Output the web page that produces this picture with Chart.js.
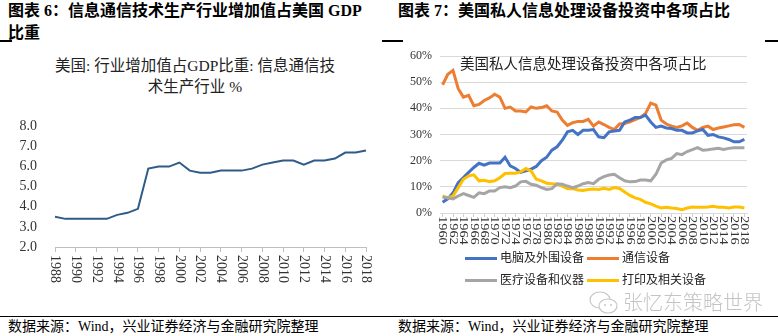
<!DOCTYPE html>
<html>
<head>
<meta charset="utf-8">
<script src="https://cdn.jsdelivr.net/npm/chart.js@4.4.0/dist/chart.umd.min.js"></script>
<style>
body { margin: 0; width: 778px; height: 336px; position: relative; overflow: hidden; background: #fff;
       font-family: "Liberation Serif", "Noto Sans CJK SC", serif; color: #000; }
.abs { position: absolute; white-space: nowrap; }
.title { font-size: 16px; font-weight: bold; line-height: 22px; }
.mark { position: absolute; top: 40px; height: 1.5px; background: #000; }
.inner { font-size: 15.5px; line-height: 21px; color: #222; text-align: center; }
.legend { font-size: 12px; line-height: 14px; color: #222; }
.legend i { display: inline-block; width: 32px; height: 3px; vertical-align: middle; margin-right: 3px; position: relative; top: -1px; }
.source { font-size: 14px; line-height: 18px; }
canvas { position: absolute; }
</style>
</head>
<body>

<div class="abs title" style="left:8px;top:0px">图表 6：信息通信技术生产行业增加值占美国 GDP<br>比重</div>
<div class="abs title" style="left:398px;top:0px">图表 7：美国私人信息处理设备投资中各项占比</div>
<div class="mark" style="left:0;width:12px"></div>
<div class="mark" style="left:382px;width:8px"></div>
<div class="mark" style="left:390px;width:13px"></div>
<div class="mark" style="left:765px;width:13px"></div>

<canvas id="gdpChart" width="390" height="200" style="left:0;top:100px"></canvas>
<canvas id="invChart" width="388" height="215" style="left:390px;top:40px"></canvas>

<div class="abs inner" style="left:0;width:390px;top:55px">美国: 行业增加值占GDP比重: 信息通信技<br>术生产行业 %</div>
<div class="abs" style="left:460px;top:54px;font-size:14.5px;line-height:20px;color:#222">美国私人信息处理设备投资中各项占比</div>

<div class="abs legend" style="left:465px;top:251px"><i style="background:#4472C4"></i>电脑及外围设备</div>
<div class="abs legend" style="left:587px;top:251px"><i style="background:#ED7D31"></i>通信设备</div>
<div class="abs legend" style="left:465px;top:273px"><i style="background:#A5A5A5"></i>医疗设备和仪器</div>
<div class="abs legend" style="left:587px;top:273px"><i style="background:#FFC000"></i>打印及相关设备</div>

<svg class="abs" style="left:588px;top:290px" width="32" height="26" viewBox="0 0 32 26">
  <ellipse cx="12" cy="10" rx="10" ry="8" fill="none" stroke="#c8c8c8" stroke-width="1.2"/>
  <ellipse cx="20" cy="16" rx="9" ry="7" fill="#fff" stroke="#c8c8c8" stroke-width="1.2"/>
  <circle cx="17" cy="15" r="1" fill="#c8c8c8"/><circle cx="23" cy="15" r="1" fill="#c8c8c8"/>
</svg>
<div class="abs" style="left:623px;top:290px;font-family:'Noto Sans CJK SC';font-weight:300;font-size:20px;line-height:24px;color:#c4c4c4">张忆东策略世界</div>

<div class="abs" style="left:0;top:316px;width:778px;height:1px;background:#000"></div>
<div class="abs source" style="left:8px;top:318px">数据来源：Wind，兴业证券经济与金融研究院整理</div>
<div class="abs source" style="left:398px;top:318px">数据来源：Wind，兴业证券经济与金融研究院整理</div>

<script>
// Figure 6: ICT producing industries value added share of US GDP (%)
const gdpYears = [];
for (let y = 1988; y <= 2018; y++) gdpYears.push(String(y));
const gdpShare = [3.5, 3.4, 3.4, 3.4, 3.4, 3.4, 3.6, 3.7, 3.9, 5.9,
                  6.0, 6.0, 6.2, 5.8, 5.7, 5.7, 5.8, 5.8, 5.8, 5.9,
                  6.1, 6.2, 6.3, 6.3, 6.1, 6.3, 6.3, 6.4, 6.7, 6.7, 6.8];

// Figure 7: shares of US private info processing equipment investment (%)
const invYears = [];
for (let y = 1960; y <= 2018; y++) invYears.push(String(y));
const computers = [4.1, 5.4, 7.7, 11.6, 13.5, 15.5, 17.4, 19.0, 18.3, 19.1,
                   19.1, 19.1, 21.3, 18.0, 17.0, 15.5, 16.1, 16.8, 17.8, 20.0,
                   21.3, 24.0, 25.3, 27.8, 31.0, 31.6, 30.0, 31.6, 31.6, 31.9,
                   29.1, 28.8, 31.0, 31.3, 31.6, 34.8, 35.5, 36.5, 36.5, 37.4,
                   34.8, 32.7, 33.2, 32.5, 32.3, 31.6, 31.6, 30.6, 30.6, 31.4,
                   31.9, 29.7, 30.0, 29.1, 28.7, 28.1, 27.2, 27.2, 28.1];
const comms = [49.0, 53.0, 54.5, 47.5, 44.3, 45.0, 41.0, 41.5, 43.0, 44.0,
               45.4, 44.3, 40.0, 40.5, 39.0, 39.0, 38.6, 40.5, 40.0, 40.3,
               41.0, 39.0, 38.6, 35.5, 33.5, 34.5, 35.0, 35.0, 35.8, 33.2,
               34.8, 33.8, 32.7, 31.9, 34.0, 34.2, 34.8, 35.7, 36.5, 38.0,
               42.0, 41.2, 35.5, 34.0, 33.2, 32.7, 33.3, 34.4, 32.7, 31.6,
               32.7, 33.2, 31.9, 32.5, 32.9, 33.3, 33.7, 33.8, 32.7];
const medical = [6.0, 5.8, 5.4, 6.5, 7.4, 6.7, 6.0, 7.7, 7.4, 8.4,
                 8.4, 9.7, 10.0, 9.7, 10.3, 11.9, 12.1, 11.0, 10.6, 9.7,
                 9.0, 9.3, 11.2, 11.0, 10.3, 9.7, 10.3, 11.2, 11.6, 11.2,
                 12.9, 13.9, 14.5, 14.8, 13.5, 12.3, 11.9, 12.0, 12.6, 12.6,
                 12.3, 14.8, 19.1, 20.3, 20.9, 22.7, 22.3, 23.5, 24.2, 25.0,
                 24.0, 24.2, 24.5, 24.7, 24.3, 24.7, 24.9, 24.9, 24.9];
const printing = [6.5, 5.8, 6.5, 9.7, 12.9, 14.2, 14.6, 12.3, 12.5, 12.0,
                  12.3, 13.5, 15.1, 15.2, 15.2, 15.7, 17.0, 16.1, 12.9, 12.3,
                  11.4, 11.2, 11.0, 10.3, 9.3, 9.3, 8.8, 8.6, 9.0, 9.2,
                  9.0, 9.4, 9.0, 9.7, 9.4, 8.0, 6.7, 5.8, 5.2, 4.1,
                  3.5, 2.6, 1.9, 2.2, 1.9, 1.7, 1.3, 1.9, 2.3, 2.2,
                  2.2, 2.3, 2.6, 2.2, 2.2, 1.9, 2.3, 2.3, 1.9];

// x labels read top-to-bottom, so draw them ourselves
const verticalYearLabels = {
    id: 'verticalYearLabels',
    afterDraw(chart, args, opts) {
        const xs = chart.scales.x;
        const ctx = chart.ctx;
        ctx.save();
        ctx.font = opts.font;
        ctx.fillStyle = opts.color;
        ctx.textAlign = 'left';
        ctx.textBaseline = 'middle';
        chart.data.labels.forEach((lab, i) => {
            if (i % 2) return;
            ctx.save();
            ctx.translate(xs.getPixelForValue(i), chart.chartArea.bottom + opts.gap);
            ctx.rotate(Math.PI / 2);
            ctx.scale(opts.stretch, 1);
            ctx.fillText(lab, 0, 0);
            ctx.restore();
        });
        ctx.restore();
    }
};

const evenTick = (color) => (c) => (c.index % 2 === 0 ? color : 'rgba(0,0,0,0)');

new Chart(document.getElementById('gdpChart'), {
    type: 'line',
    data: {
        labels: gdpYears,
        datasets: [{
            data: gdpShare,
            borderColor: '#2E5B88',
            borderWidth: 2,
            pointRadius: 0,
            tension: 0
        }]
    },
    options: {
        responsive: false,
        animation: false,
        layout: { padding: { top: 17, right: 24, left: 0, bottom: 0 } },
        plugins: {
            legend: { display: false },
            tooltip: { enabled: false },
            verticalYearLabels: { font: '14px "Liberation Serif"', color: '#333', gap: 8, stretch: 1 }
        },
        scales: {
            x: {
                offset: false,
                afterFit: (s) => { s.height = 53; },
                ticks: { display: false, autoSkip: false },
                grid: { offset: false, drawOnChartArea: false, drawTicks: true, tickLength: 5, color: evenTick('#bfbfbf') },
                border: { display: true, color: '#bfbfbf' }
            },
            y: {
                min: 2, max: 8,
                afterFit: (s) => { s.width = 55; },
                ticks: {
                    stepSize: 1, padding: 18, color: '#333',
                    font: { family: 'Liberation Serif', size: 14 },
                    callback: (v) => v.toFixed(1)
                },
                grid: { display: false, drawTicks: false },
                border: { display: false }
            }
        }
    },
    plugins: [verticalYearLabels]
});

const line = (data, color) => ({ data, borderColor: color, borderWidth: 3, pointRadius: 0, tension: 0 });

new Chart(document.getElementById('invChart'), {
    type: 'line',
    data: {
        labels: invYears,
        datasets: [
            line(medical, '#A5A5A5'),
            line(printing, '#FFC000'),
            line(computers, '#4472C4'),
            line(comms, '#ED7D31')
        ]
    },
    options: {
        responsive: false,
        animation: false,
        layout: { padding: { top: 16, right: 31, left: 0, bottom: 0 } },
        plugins: {
            legend: { display: false },
            tooltip: { enabled: false },
            verticalYearLabels: { font: '12px "Liberation Serif"', color: '#333', gap: 3, stretch: 1.2 }
        },
        scales: {
            x: {
                offset: true,
                afterFit: (s) => { s.height = 42; },
                ticks: { display: false, autoSkip: false },
                grid: { offset: false, drawOnChartArea: false, drawTicks: true, tickLength: 4, color: evenTick('#d0d0d0') },
                border: { display: true, color: '#d9d9d9' }
            },
            y: {
                min: 0, max: 60,
                afterFit: (s) => { s.width = 50; },
                ticks: {
                    stepSize: 10, padding: 8, color: '#333',
                    font: { family: 'Liberation Serif', size: 12 },
                    callback: (v) => v + '%'
                },
                grid: { color: '#d9d9d9', drawTicks: false },
                border: { display: false }
            }
        }
    },
    plugins: [verticalYearLabels]
});
</script>
</body>
</html>
